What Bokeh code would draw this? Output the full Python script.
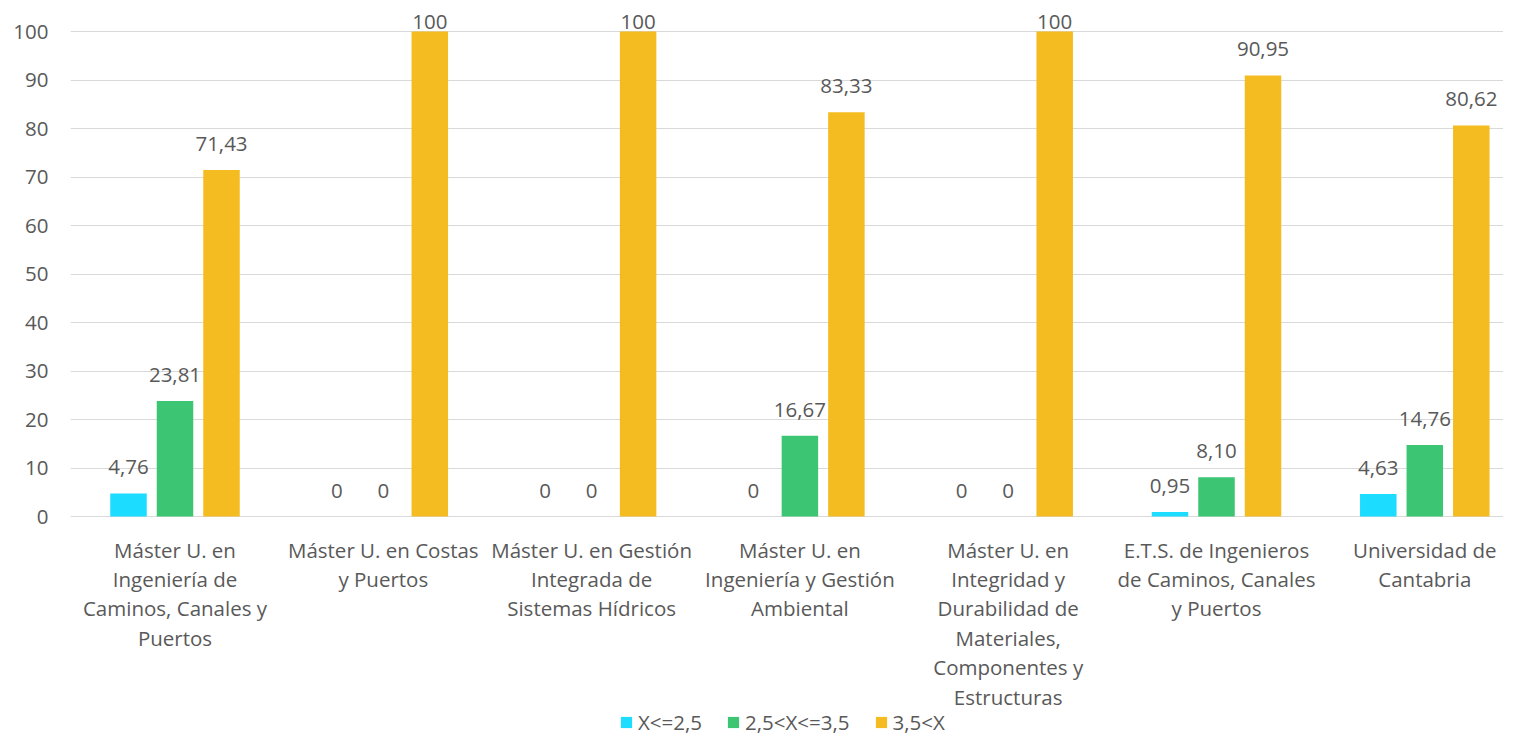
import numpy as np
from bokeh.plotting import figure
from bokeh.models import ColumnDataSource, Range1d, FixedTicker, Legend, LegendItem
from bokeh.core.properties import value
from bokeh.embed import file_html
from bokeh.resources import INLINE

# ---------------- data ----------------
categories = [
    "Máster U. en Ingeniería de Caminos, Canales y Puertos",
    "Máster U. en Costas y Puertos",
    "Máster U. en Gestión Integrada de Sistemas Hídricos",
    "Máster U. en Ingeniería y Gestión Ambiental",
    "Máster U. en Integridad y Durabilidad de Materiales, Componentes y Estructuras",
    "E.T.S. de Ingenieros de Caminos, Canales y Puertos",
    "Universidad de Cantabria",
]
category_lines = [
    "Máster U. en\nIngeniería de\nCaminos, Canales y\nPuertos",
    "Máster U. en Costas\ny Puertos",
    "Máster U. en Gestión\nIntegrada de\nSistemas Hídricos",
    "Máster U. en\nIngeniería y Gestión\nAmbiental",
    "Máster U. en\nIntegridad y\nDurabilidad de\nMateriales,\nComponentes y\nEstructuras",
    "E.T.S. de Ingenieros\nde Caminos, Canales\ny Puertos",
    "Universidad de\nCantabria",
]
series_names = ["X<=2,5", "2,5<X<=3,5", "3,5<X"]
low = [4.76, 0, 0, 0, 0, 0.95, 4.63]
mid = [23.81, 0, 0, 16.67, 0, 8.10, 14.76]
high = [71.43, 100, 100, 83.33, 100, 90.95, 80.62]
colors = ["#1CDCFF", "#3CC572", "#F4BC20"]
y_ticks = list(range(0, 101, 10))

# ---------------- layout ----------------
W, H = 1503, 740
PX = 4.85            # pixels per value unit
LEFT = 70
TOP_PAD = 31
CAT_PX = 208.3
FIRST_CENTER = 174.5
frame_w = W - LEFT
x_start = -(FIRST_CENTER - LEFT) / CAT_PX
x_end = x_start + frame_w / CAT_PX
y_end = 100 + TOP_PAD / PX
y_start = y_end - H / PX

FONT = value("Open Sans")
FS = "20.5px"
GRAY = "#595959"

p = figure(width=W, height=H, output_backend="svg", toolbar_location=None,
           x_range=Range1d(x_start, x_end), y_range=Range1d(y_start, y_end),
           x_axis_location=None, min_border_left=LEFT, min_border_right=0,
           min_border_top=0, min_border_bottom=0)
p.outline_line_color = None
p.xgrid.visible = False
p.yaxis.ticker = FixedTicker(ticks=y_ticks)
p.ygrid.ticker = FixedTicker(ticks=y_ticks)
p.ygrid.grid_line_color = "#D9D9D9"
p.ygrid.grid_line_width = 1
p.yaxis.axis_line_color = None
p.yaxis.major_tick_line_color = None
p.yaxis.minor_tick_line_color = None
p.yaxis.major_tick_out = 0
p.yaxis.major_tick_in = 0
p.yaxis.major_label_standoff = 22
p.yaxis.major_label_text_font = "Open Sans"
p.yaxis.major_label_text_font_size = FS
p.yaxis.major_label_text_color = GRAY

idx = np.arange(len(categories), dtype=float)
step = 46.5 / CAT_PX
offsets = [-step, 0.0, step]
bar_w = 36.5 / CAT_PX


def fmt(v):
    if float(v).is_integer():
        return str(int(v))
    return f"{v:.2f}".replace(".", ",")


renderers = []
for vals, off, col in zip([low, mid, high], offsets, colors):
    vals = np.array(vals, dtype=float)
    src = ColumnDataSource(dict(
        x=idx + off, top=vals,
        ly=np.minimum(vals + 26 / PX, 100 + 10 / PX),
        lab=[fmt(v) for v in vals],
    ))
    r = p.vbar(x="x", top="top", bottom=0, width=bar_w, source=src,
               fill_color=col, line_color=None)
    renderers.append(r)
    p.text(x="x", y="ly", text="lab", source=src, text_align="center",
           text_baseline="middle", text_font=FONT, text_font_size=FS,
           text_color=GRAY)

cat_src = ColumnDataSource(dict(x=idx, y=np.zeros(len(idx)), t=category_lines))
p.text(x="x", y="y", text="t", source=cat_src, text_align="center",
       text_baseline="top", y_offset=19, text_line_height=1.05,
       text_font=FONT, text_font_size=FS, text_color=GRAY)

legend = Legend(items=[LegendItem(label=n, renderers=[r]) for n, r in zip(series_names, renderers)],
                orientation="horizontal", location=(549, 4),
                glyph_width=14, glyph_height=14, label_standoff=5, spacing=24,
                padding=0, margin=0, border_line_color=None,
                background_fill_alpha=0,
                label_text_font="Open Sans", label_text_font_size=FS,
                label_text_color=GRAY)
p.add_layout(legend)

open("out.html", "w").write(file_html(p, INLINE))
